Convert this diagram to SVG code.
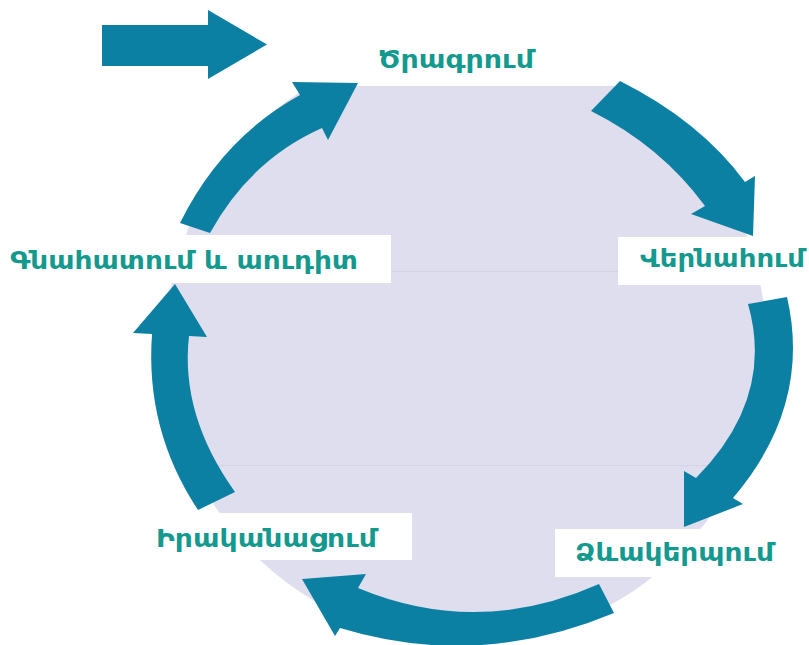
<svg xmlns="http://www.w3.org/2000/svg" width="809" height="645" viewBox="0 0 809 645">
<style>
.arr{fill:#0c80a3}
.box{fill:#ffffff}
.lbl{font-family:"DejaVu Sans","Noto Sans",sans-serif;font-weight:bold;font-size:25px;fill:#13998e}
.faint{stroke:#d4d3e6;stroke-width:1}
</style>
<defs>
<clipPath id="cc"><circle cx="466" cy="342" r="300"/></clipPath>
</defs>
<rect width="809" height="645" fill="#ffffff"/>
<g id="background">
<circle cx="466" cy="342" r="300" fill="#dfdeee"/>
<g clip-path="url(#cc)">
<line class="faint" x1="150" y1="271.5" x2="780" y2="271.5"/>
<line class="faint" x1="150" y1="465.5" x2="780" y2="465.5"/>
</g>
</g>
<g id="node-planning">
<rect class="box" x="300" y="36" width="330" height="50"/>
<text class="lbl" x="378" y="68" textLength="156" lengthAdjust="spacingAndGlyphs">Ծրագրում</text>
</g>
<g id="node-evaluation">
<rect class="box" x="0" y="235" width="391" height="48"/>
<text class="lbl" x="10" y="269" textLength="348" lengthAdjust="spacingAndGlyphs">Գնահատում և աուդիտ</text>
</g>
<g id="node-review">
<rect class="box" x="618" y="237" width="191" height="48"/>
<text class="lbl" x="640" y="267" textLength="165" lengthAdjust="spacingAndGlyphs">Վերնահում</text>
</g>
<g id="node-design">
<rect class="box" x="555" y="529" width="240" height="48"/>
<text class="lbl" x="575" y="561" textLength="199" lengthAdjust="spacingAndGlyphs">Ձևակերպում</text>
</g>
<g id="node-implementation">
<rect class="box" x="120" y="513" width="292" height="47"/>
<text class="lbl" x="156" y="547" textLength="221" lengthAdjust="spacingAndGlyphs">Իրականացում</text>
</g>
<g id="connectors">
<path class="arr" d="M102,25 L208,25 L208,10 L267,44.5 L208,79 L208,66 L102,66 Z"/>
<path class="arr" d="M180,223 Q222,138 300,95 L292,82 L358,83 L328,140 L322,128 Q250,160 210,233 Z"/>
<path class="arr" d="M620,81 Q700,121 745,182 L755,176 L753,236 L691,214 L705,206 Q661,146 591,111 Z"/>
<path class="arr" d="M787,297 Q812,405 733,498 L743,504 L684,527 L684,471 L696,478 Q775,398 748,304 Z"/>
<path class="arr" d="M614,613 Q478,670 340,628 L335,636 L302,579 L366,574 L358,588 Q478,638 599,584 Z"/>
<path class="arr" d="M175,284 L207,337 L189,336 Q180,415 235,492 L198,510 Q145,430 152,334 L133,333 Z"/>
</g>
</svg>
